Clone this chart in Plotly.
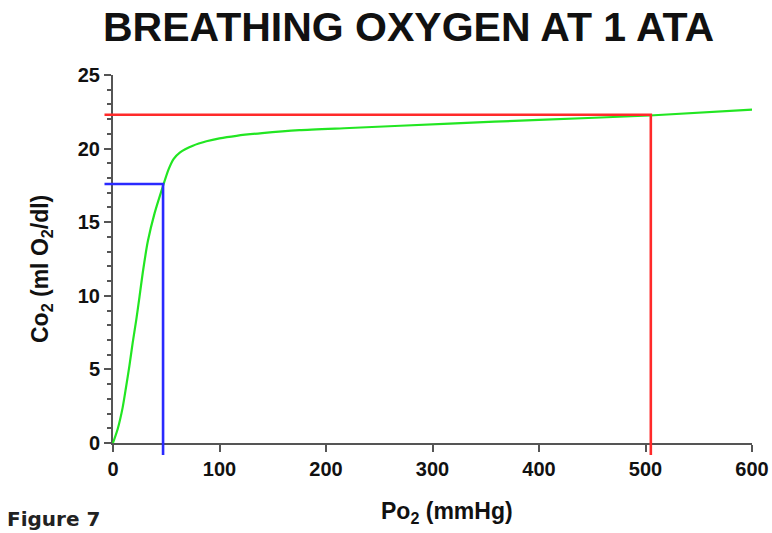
import plotly.graph_objects as go

# Oxygen content of blood vs. oxygen partial pressure, breathing O2 at 1 ATA
po2 = [0, 4.4, 9.1, 12.2, 15.4, 18.5, 21.8, 24.9, 28, 32.7, 39, 45.8, 52,
       57, 63, 75, 87.7, 100, 116, 140, 175, 222, 316, 400, 504, 600]
co2 = [0, 0.95, 2.42, 3.77, 5.24, 6.82, 8.35, 9.95, 11.6, 13.7, 15.6, 17.2, 18.55,
       19.3, 19.75, 20.2, 20.5, 20.7, 20.87, 21.05, 21.25, 21.4, 21.7, 21.95, 22.25, 22.65]

# Reference points marked with guide lines
venous_po2, venous_co2 = 47, 17.6
arterial_po2, arterial_co2 = 505, 22.3

x_ticks = [0, 100, 200, 300, 400, 500, 600]
y_ticks = [0, 5, 10, 15, 20, 25]

W, H = 772, 533
X_RANGE = (0, 600)
Y_RANGE = (0, 25)
# plot area in pixels
L, R, T, B = 113, 752, 75, 443
PAD = 22  # extra room so guide lines can run past the axes


def px_x(p):
    return p / W


def px_y(p):
    return 1 - p / H


ux = (X_RANGE[1] - X_RANGE[0]) / (R - L)
uy = (Y_RANGE[1] - Y_RANGE[0]) / (B - T)
over_x = 8.5 * ux   # guide lines start a little left of the y axis
over_y = 12 * uy    # and end a little below the x axis

font_family = "Liberation Sans, Arial, sans-serif"
axis_color = "#555555"

fig = go.Figure()

# empty trace so the visible x/y axes get drawn
fig.add_trace(go.Scatter(x=[None], y=[None], mode="lines", xaxis="x", yaxis="y",
                         hoverinfo="skip"))

fig.add_trace(go.Scatter(
    x=po2, y=co2, mode="lines",
    line=dict(color="#22e622", width=2.2, shape="spline", smoothing=0.6),
    xaxis="x2", yaxis="y2", hoverinfo="skip",
))
fig.add_trace(go.Scatter(
    x=[-over_x, venous_po2, venous_po2],
    y=[venous_co2, venous_co2, -over_y],
    mode="lines", line=dict(color="#2a2aff", width=2.6),
    xaxis="x2", yaxis="y2", hoverinfo="skip",
))
fig.add_trace(go.Scatter(
    x=[-over_x, arterial_po2, arterial_po2],
    y=[arterial_co2, arterial_co2, -over_y],
    mode="lines", line=dict(color="#ff2a2a", width=2.6),
    xaxis="x2", yaxis="y2", hoverinfo="skip",
))

tick_font = dict(family=font_family, size=20, color="#111111", weight="bold")
label_font = dict(family=font_family, size=23, color="#111111", weight="bold")

fig.update_layout(
    width=W, height=H,
    margin=dict(l=0, r=0, t=0, b=0, autoexpand=False),
    paper_bgcolor="white", plot_bgcolor="rgba(0,0,0,0)",
    showlegend=False,
    xaxis=dict(
        domain=[px_x(L), px_x(R)], range=list(X_RANGE), anchor="y",
        tickvals=x_ticks, ticks="outside", ticklen=7, tickwidth=2,
        tickcolor=axis_color, showline=True, linecolor=axis_color, linewidth=2,
        showgrid=False, zeroline=False, tickfont=tick_font, fixedrange=True,
        automargin=False,
    ),
    yaxis=dict(
        domain=[px_y(B), px_y(T)], range=list(Y_RANGE), anchor="x",
        tickvals=y_ticks, ticks="outside", ticklen=7, tickwidth=2,
        tickcolor=axis_color, showline=True, linecolor=axis_color, linewidth=2,
        showgrid=False, zeroline=False, tickfont=tick_font, fixedrange=True,
        automargin=False,
        minor=dict(dtick=1, ticks="outside", ticklen=4, tickwidth=1.5,
                   tickcolor=axis_color, showgrid=False),
    ),
    xaxis2=dict(
        domain=[px_x(L - PAD), px_x(min(R + PAD, W))],
        range=[X_RANGE[0] - PAD * ux, X_RANGE[1] + (min(R + PAD, W) - R) * ux],
        anchor="y2", visible=False, fixedrange=True, automargin=False,
    ),
    yaxis2=dict(
        domain=[px_y(B + PAD), px_y(T - PAD)],
        range=[Y_RANGE[0] - PAD * uy, Y_RANGE[1] + PAD * uy],
        anchor="x2", visible=False, fixedrange=True, automargin=False,
    ),
    annotations=[
        dict(text="BREATHING OXYGEN AT 1 ATA", x=px_x(408), y=px_y(27),
             xref="paper", yref="paper", xanchor="center", yanchor="middle",
             showarrow=False,
             font=dict(family=font_family, size=41, color="#111111", weight="bold")),
        dict(text="Co<sub>2</sub> (ml O<sub>2</sub>/dl)", x=px_x(41), y=px_y(269),
             xref="paper", yref="paper", xanchor="center", yanchor="middle",
             textangle=-90, showarrow=False, font=label_font),
        dict(text="Po<sub>2</sub> (mmHg)", x=px_x(447), y=px_y(512),
             xref="paper", yref="paper", xanchor="center", yanchor="middle",
             showarrow=False, font=label_font),
        dict(text="Figure 7", x=px_x(5), y=px_y(505),
             xref="paper", yref="paper", xanchor="left", yanchor="top",
             showarrow=False,
             font=dict(family="DejaVu Sans, sans-serif", size=20, color="#222222",
                       weight="bold")),
    ],
)

fig.write_html("out.html")
